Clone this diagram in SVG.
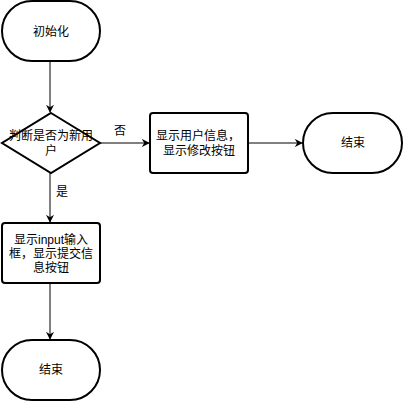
<svg xmlns="http://www.w3.org/2000/svg" width="404" height="401" viewBox="0 0 404 401">
<style>
.shape{fill:#fff;stroke:#000;stroke-width:2}
.edge{fill:none;stroke:#000;stroke-width:1}
text{font-family:"Liberation Sans","Noto Sans CJK SC",sans-serif;font-size:12px;fill:#000;text-anchor:middle}
</style>
<defs>
<marker id="arr" viewBox="0 0 10 10" refX="9" refY="5" markerWidth="8" markerHeight="8" markerUnits="userSpaceOnUse" orient="auto">
<path d="M0,0 L10,5 L0,10 L3,5 Z" fill="#000"/>
</marker>
</defs>
<rect width="404" height="401" fill="#fff"/>
<g id="edges">
<path class="edge" d="M50,61 V112" marker-end="url(#arr)"/>
<path class="edge" d="M100,143 H149" marker-end="url(#arr)"/>
<path class="edge" d="M248,143 H302" marker-end="url(#arr)"/>
<path class="edge" d="M50,173 V222" marker-end="url(#arr)"/>
<path class="edge" d="M50,283 V339" marker-end="url(#arr)"/>
<text x="120" y="135">否</text>
<text x="62" y="196">是</text>
</g>
<g id="start">
<rect class="shape" x="2" y="1" width="98" height="60" rx="30" ry="30"/>
<text x="51" y="36">初始化</text>
</g>
<g id="decision">
<path class="shape" d="M51,113 L100,143 L51,173 L2,143 Z"/>
<text x="51" y="140">判断是否为新用</text>
<text x="51" y="155">户</text>
</g>
<g id="showUser">
<rect class="shape" x="150" y="113" width="98" height="60" rx="3"/>
<text x="198" y="140">显示用户信息，</text>
<text x="199" y="155">显示修改按钮</text>
</g>
<g id="end1">
<rect class="shape" x="303" y="113" width="99" height="60" rx="30" ry="30"/>
<text x="353" y="147">结束</text>
</g>
<g id="showInput">
<rect class="shape" x="2" y="223" width="98" height="60" rx="3"/>
<text x="51" y="244">显示input输入</text>
<text x="51" y="258">框，显示提交信</text>
<text x="51" y="272">息按钮</text>
</g>
<g id="end2">
<rect class="shape" x="2" y="340" width="98" height="60" rx="30" ry="30"/>
<text x="51" y="374">结束</text>
</g>
</svg>
